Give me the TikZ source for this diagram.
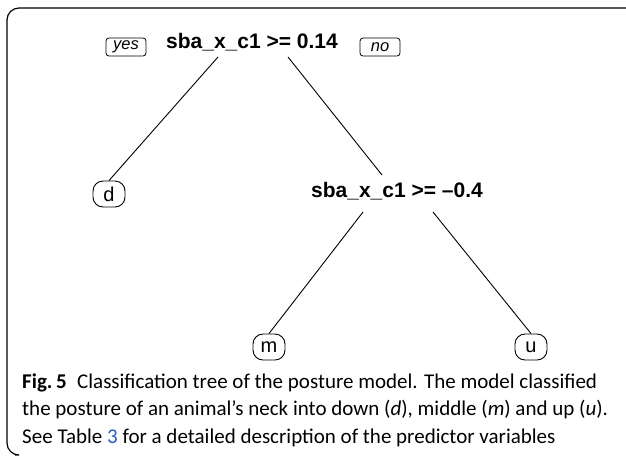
\documentclass[tikz,border=0pt]{standalone}
\usepackage{fontspec}
\setmainfont{Liberation Sans}
\newfontfamily\capfont{Carlito}
\begin{document}
\begin{tikzpicture}[x=1pt,y=-1pt,
  splitlabel/.style={font=\fontsize{21}{24}\selectfont\bfseries, inner sep=0pt},
  leafbox/.style={draw, rounded corners=10pt, minimum width=32pt, minimum height=26pt, inner sep=0pt, font=\fontsize{20}{22}\selectfont, line width=0.9pt},
  tagbox/.style={draw, rounded corners=3pt, minimum width=40pt, minimum height=18pt, inner sep=0pt, font=\fontsize{16.5}{18}\selectfont\itshape, line width=0.8pt},
  branch/.style={line width=0.9pt},
  frameline/.style={line width=1.2pt}]
\useasboundingbox (0,0) rectangle (626,459);
\fill[white] (0,0) rectangle (626,459);
% frame
\draw[frameline, rounded corners=12pt] (627,8) -- (7,8) -- (7,455) -- (15,455);
% tree
\node[splitlabel] (root) at (252,42) {sba\_x\_c1 >= 0.14};
\node[tagbox] (yes) at (126,47) {yes};
\node[tagbox] (no) at (380,47) {no};
\node[splitlabel] (split2) at (397,191) {sba\_x\_c1 >= \textendash0.4};
\node[leafbox] (d) at (109,194) {d};
\node[leafbox] (m) at (269,347) {m};
\node[leafbox] (u) at (531,347) {u};
\coordinate (rootL) at (218,57);
\coordinate (rootR) at (288,57);
\coordinate (s2T) at (382,175);
\coordinate (s2L) at (363,212);
\coordinate (s2R) at (433,212);
\draw[branch] (rootL) -- (d.north);
\draw[branch] (rootR) -- (s2T);
\draw[branch] (s2L) -- (m.north);
\draw[branch] (s2R) -- (u.north);
% caption
\node[anchor=base west, inner sep=0pt, align=left, font=\capfont\fontsize{21}{27.5}\selectfont] (cap) at (22,443)
{\textbf{Fig.\,5}\enspace Classification tree of the posture model. The model classified\\
the posture of an animal’s neck into down (\textit{d}), middle (\textit{m}) and up (\textit{u}).\\
See Table \textcolor[RGB]{40,90,210}{3} for a detailed description of the predictor variables};
\end{tikzpicture}
\end{document}
